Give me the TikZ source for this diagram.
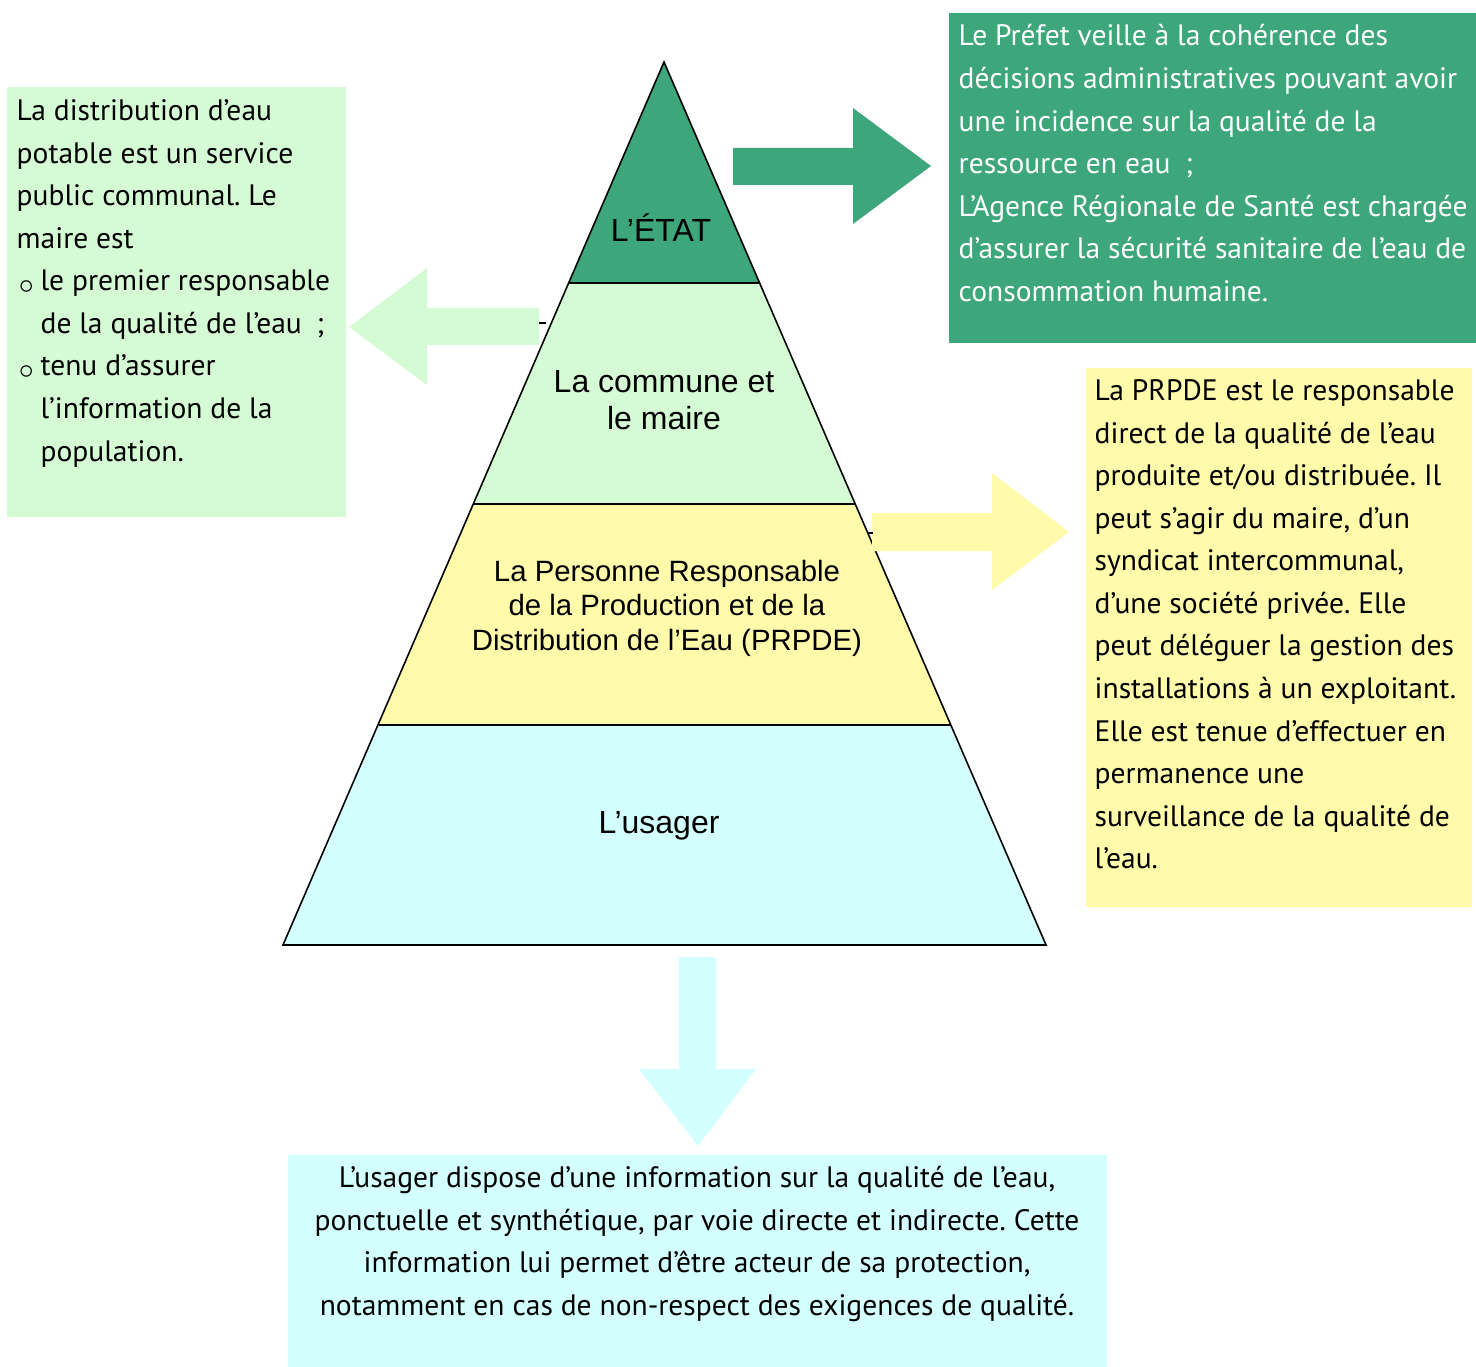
\documentclass[tikz,border=0pt]{standalone}
\usepackage{fontspec}
\setmainfont{PT Sans}
\newfontfamily\arialfont{Liberation Sans}
\usepackage{xcolor}
\definecolor{etatgreen}{RGB}{61,166,123}
\definecolor{communegreen}{RGB}{213,251,213}
\definecolor{prpdeyellow}{RGB}{255,251,170}
\definecolor{usagercyan}{RGB}{212,255,255}
\newcommand{\puce}{\makebox[6.8pt][l]{\hspace{0.6pt}\raisebox{-0.15ex}{$\circ$}}}
\newcommand{\retrait}{\hspace*{6.8pt}}
\frenchspacing

\begin{document}
\begin{tikzpicture}[x=0.01cm, y=-0.01cm,
    boxtext/.style={inner sep=0pt, anchor=north west, align=left, font=\fontsize{8.4}{12.1}\selectfont},
    layerlabel/.style={inner sep=0pt, align=center, font=\arialfont\fontsize{9.1}{10.6}\selectfont},
    pyrline/.style={line width=0.45pt}]
    \useasboundingbox (0,0) rectangle (1476,1367);
    % pyramid
    \coordinate (apex) at (664,62);
    \coordinate (e1) at (569,283);  \coordinate (e2) at (760,283);
    \coordinate (c1) at (474,504);  \coordinate (c2) at (855,504);
    \coordinate (p1) at (379,725);  \coordinate (p2) at (950,725);
    \coordinate (u1) at (283,945);  \coordinate (u2) at (1046,945);
    \fill[etatgreen] (apex) -- (e2) -- (e1) -- cycle;
    \fill[communegreen] (e1) -- (e2) -- (c2) -- (c1) -- cycle;
    \fill[prpdeyellow] (c1) -- (c2) -- (p2) -- (p1) -- cycle;
    \fill[usagercyan] (p1) -- (p2) -- (u2) -- (u1) -- cycle;
    \draw[pyrline] (apex) -- (u2) -- (u1) -- cycle;
    \draw[pyrline] (e1) -- (e2) (c1) -- (c2) (p1) -- (p2);
    \node[layerlabel] (etat) at (661,228) {L’ÉTAT};
    \node[layerlabel] (commune) at (664,400) {La commune et\\le maire};
    \node[layerlabel, font=\arialfont\fontsize{8.35}{9.8}\selectfont] (prpde) at (667,608) {La Personne Responsable\\de la Production et de la\\Distribution de l’Eau (PRPDE)};
    \node[layerlabel] (usager) at (659,826) {L’usager};

    % block arrows
    \fill[etatgreen] (733,148) -- (853,148) -- (853,108) -- (931,166) -- (853,224) -- (853,185) -- (733,185) -- cycle;
    \fill[communegreen] (539,308) -- (427,308) -- (427,268) -- (349,327) -- (427,385) -- (427,345) -- (539,345) -- cycle;
    \fill[prpdeyellow] (872,513) -- (992,513) -- (992,473) -- (1069,532) -- (992,590) -- (992,551) -- (872,551) -- cycle;
    \fill[usagercyan] (679,957) -- (716,957) -- (716,1069) -- (756,1069) -- (698,1146) -- (639,1069) -- (679,1069) -- cycle;
    \draw[line width=0.3pt] (539,323) -- (546,323) (868,533) -- (873,533);

    % text boxes
    \fill[communegreen] (7,87) rectangle (346,517);
    \fill[etatgreen] (949,13) rectangle (1476,343);
    \fill[prpdeyellow] (1086,368) rectangle (1472,907);
    \fill[usagercyan] (288,1155) rectangle (1107,1367);

    \node[boxtext] (maire) at (16,99) {La distribution d’eau\\potable est un service\\public communal. Le\\maire est\\
      \puce le premier responsable\\\retrait de la qualité de l’eau\enspace;\\
      \puce tenu d’assurer\\\retrait l’information de la\\\retrait population.};
    \node[boxtext, text=white] (prefet) at (958,24) {Le Préfet veille à la cohérence des\\décisions administratives pouvant avoir\\une incidence sur la qualité de la\\ressource en eau\enspace;\\L’Agence Régionale de Santé est chargée\\d’assurer la sécurité sanitaire de l’eau de\\consommation humaine.};
    \node[boxtext] (responsable) at (1094,379) {La PRPDE est le responsable\\direct de la qualité de l’eau\\produite et/ou distribuée. Il\\peut s’agir du maire, d’un\\syndicat intercommunal,\\d’une société privée. Elle\\peut déléguer la gestion des\\installations à un exploitant.\\Elle est tenue d’effectuer en\\permanence une\\surveillance de la qualité de\\l’eau.};
    \node[boxtext, anchor=center, align=center] (information) at (697,1244) {L’usager dispose d’une information sur la qualité de l’eau,\\ponctuelle et synthétique, par voie directe et indirecte. Cette\\information lui permet d’être acteur de sa protection,\\notamment en cas de non-respect des exigences de qualité.};
\end{tikzpicture}
\end{document}
